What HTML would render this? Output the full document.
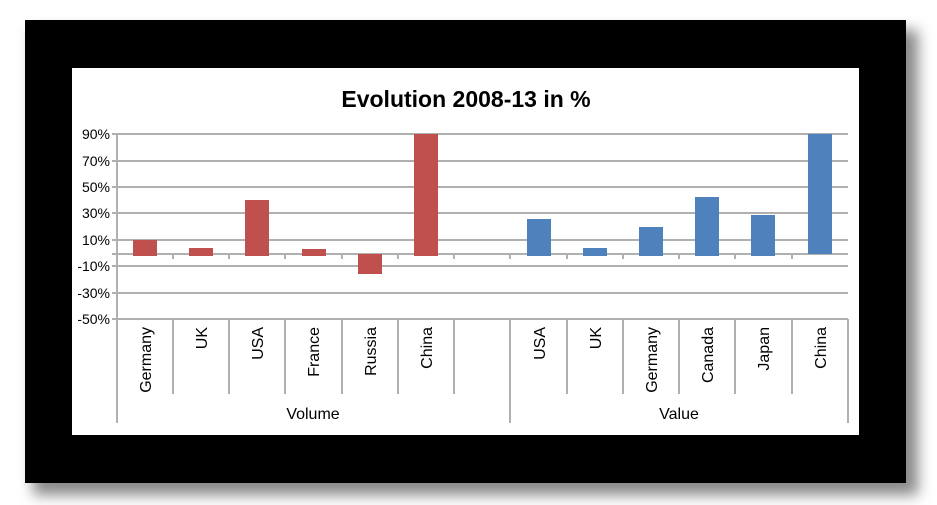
<!DOCTYPE html>
<html><head><style>
html,body{margin:0;padding:0;background:#fff;}
svg{display:block;font-family:"Liberation Sans",Arial,sans-serif;}
</style></head><body>
<svg width="937" height="505" viewBox="0 0 937 505">
<defs><filter id="b" x="-10%" y="-10%" width="120%" height="120%"><feGaussianBlur stdDeviation="7"/></filter></defs>
<rect x="33" y="30" width="885" height="465" fill="#888" filter="url(#b)"/>
<rect x="25" y="20" width="881" height="463" fill="#000"/>
<rect x="72" y="68" width="787" height="367" fill="#fff"/>
<text x="466" y="107" font-size="23" font-weight="bold" text-anchor="middle" fill="#000">Evolution 2008-13 in %</text>
<g stroke="#b0b0b0" stroke-width="2">
<line x1="112" x2="848" y1="134" y2="134"/><line x1="112" x2="848" y1="161" y2="161"/>
<line x1="112" x2="848" y1="187" y2="187"/><line x1="112" x2="848" y1="213" y2="213"/>
<line x1="112" x2="848" y1="240" y2="240"/><line x1="112" x2="848" y1="266" y2="266"/>
<line x1="112" x2="848" y1="293" y2="293"/><line x1="112" x2="848" y1="319" y2="319"/>
<line x1="112" x2="848" y1="254" y2="254"/>
<line x1="117" x2="117" y1="134" y2="423"/>
<line x1="510" x2="510" y1="319" y2="423"/><line x1="848" x2="848" y1="319" y2="423"/>
<line x1="173" x2="173" y1="319" y2="394"/><line x1="229" x2="229" y1="319" y2="394"/>
<line x1="285" x2="285" y1="319" y2="394"/><line x1="342" x2="342" y1="319" y2="394"/>
<line x1="398" x2="398" y1="319" y2="394"/><line x1="454" x2="454" y1="319" y2="394"/>
<line x1="567" x2="567" y1="319" y2="394"/><line x1="623" x2="623" y1="319" y2="394"/>
<line x1="679" x2="679" y1="319" y2="394"/><line x1="735" x2="735" y1="319" y2="394"/>
<line x1="792" x2="792" y1="319" y2="394"/>
<line x1="173" x2="173" y1="254" y2="259"/><line x1="229" x2="229" y1="254" y2="259"/>
<line x1="285" x2="285" y1="254" y2="259"/><line x1="342" x2="342" y1="254" y2="259"/>
<line x1="398" x2="398" y1="254" y2="259"/><line x1="454" x2="454" y1="254" y2="259"/>
<line x1="510" x2="510" y1="254" y2="259"/><line x1="567" x2="567" y1="254" y2="259"/>
<line x1="623" x2="623" y1="254" y2="259"/><line x1="679" x2="679" y1="254" y2="259"/>
<line x1="735" x2="735" y1="254" y2="259"/><line x1="792" x2="792" y1="254" y2="259"/>
</g>
<g fill="#c0504d">
<rect x="133" y="240" width="24" height="16"/>
<rect x="189" y="248" width="24" height="8"/>
<rect x="245" y="200" width="24" height="56"/>
<rect x="302" y="249" width="24" height="7"/>
<rect x="358" y="254" width="24" height="20"/>
<rect x="414" y="134" width="24" height="122"/>
</g>
<g fill="#4f81bd">
<rect x="527" y="219" width="24" height="37"/>
<rect x="583" y="248" width="24" height="8"/>
<rect x="639" y="227" width="24" height="29"/>
<rect x="695" y="197" width="24" height="59"/>
<rect x="751" y="215" width="24" height="41"/>
<rect x="808" y="134" width="24" height="120"/>
</g>
<g font-size="14" fill="#000" text-anchor="end">
<text x="110" y="139">90%</text><text x="110" y="166">70%</text><text x="110" y="192">50%</text>
<text x="110" y="218">30%</text><text x="110" y="245">10%</text><text x="110" y="271">-10%</text>
<text x="110" y="298">-30%</text><text x="110" y="324">-50%</text>
</g>
<g font-size="16" fill="#000" text-anchor="end">
<text transform="translate(151,327) rotate(-90)">Germany</text>
<text transform="translate(207,327) rotate(-90)">UK</text>
<text transform="translate(263,327) rotate(-90)">USA</text>
<text transform="translate(319,327) rotate(-90)">France</text>
<text transform="translate(376,327) rotate(-90)">Russia</text>
<text transform="translate(432,327) rotate(-90)">China</text>
<text transform="translate(545,327) rotate(-90)">USA</text>
<text transform="translate(601,327) rotate(-90)">UK</text>
<text transform="translate(657,327) rotate(-90)">Germany</text>
<text transform="translate(713,327) rotate(-90)">Canada</text>
<text transform="translate(769,327) rotate(-90)">Japan</text>
<text transform="translate(826,327) rotate(-90)">China</text>
</g>
<g font-size="16" fill="#000" text-anchor="middle">
<text x="313" y="419">Volume</text><text x="679" y="419">Value</text>
</g>
</svg>
</body></html>
